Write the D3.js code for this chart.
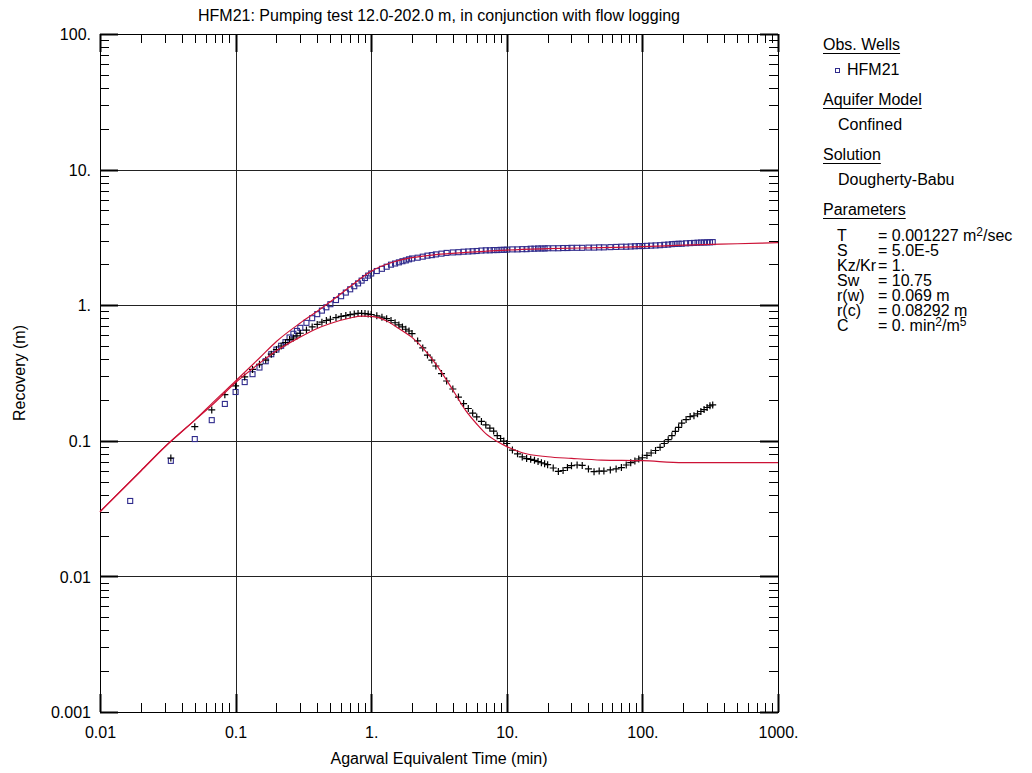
<!DOCTYPE html>
<html lang="en">
<head>
<meta charset="UTF-8">
<title>HFM21 Recovery</title>
<style>
  body { margin: 0; background: #fff; }
  svg text { font-family: Arial, "Liberation Sans", sans-serif; font-size: 16px; fill: #000; }
</style>
</head>
<body>
<svg id="chart" width="1032" height="773"></svg>
<script src="https://d3js.org/d3.v7.min.js"></script>
<script>
// observed data (min, m)
var obsTime = [0.0167, 0.0333, 0.05, 0.0667, 0.0833, 0.1, 0.1167, 0.1333, 0.15, 0.1667, 0.1833, 0.2, 0.2167, 0.2333, 0.25, 0.2667, 0.2833,
  0.3, 0.333, 0.367, 0.4, 0.433, 0.467, 0.5, 0.55, 0.6, 0.65, 0.7, 0.75, 0.8, 0.85, 0.9, 0.95,
  1.0, 1.1, 1.2, 1.3, 1.4, 1.5, 1.6, 1.7, 1.8, 1.9, 2.0, 2.2, 2.4, 2.6, 2.8, 3.0, 3.3, 3.6,
  4.0, 4.4, 4.8, 5.2, 5.6, 6.0, 6.5, 7.0, 7.5, 8.0, 8.5, 9.0, 9.5,
  10, 11, 12, 13, 14, 15, 16, 17, 18, 19, 20, 22, 24, 26, 28, 30, 33, 36, 40, 44, 48, 52,
  58, 64, 70, 76, 82, 88, 94, 100, 108, 116, 125, 135, 145, 155, 165, 175, 185, 195,
  210, 225, 240, 255, 270, 285, 300, 315, 330];

var obsRecovery = [0.036, 0.0711, 0.103, 0.142, 0.187, 0.229, 0.271, 0.310, 0.347, 0.386, 0.435, 0.471, 0.502, 0.534, 0.578, 0.616, 0.646,
  0.681, 0.741, 0.802, 0.859, 0.912, 0.965, 1.017, 1.092, 1.165, 1.239, 1.310, 1.380, 1.448, 1.518, 1.587, 1.653,
  1.713, 1.787, 1.855, 1.922, 1.99, 2.03, 2.07, 2.11, 2.14, 2.18, 2.21, 2.24, 2.28, 2.32, 2.34, 2.37, 2.40, 2.43,
  2.45, 2.46, 2.48, 2.49, 2.50, 2.51, 2.53, 2.54, 2.54, 2.55, 2.55, 2.56, 2.56,
  2.57, 2.58, 2.58, 2.59, 2.59, 2.61, 2.61, 2.62, 2.62, 2.62, 2.63, 2.63, 2.63, 2.64, 2.64, 2.65, 2.65, 2.65, 2.66, 2.66, 2.67, 2.67,
  2.68, 2.69, 2.70, 2.70, 2.71, 2.72, 2.73, 2.73, 2.74, 2.75, 2.76, 2.77, 2.79, 2.80, 2.82, 2.83, 2.84, 2.84,
  2.86, 2.87, 2.88, 2.89, 2.90, 2.90, 2.91, 2.91, 2.92];

var obsDerivative = [null, 0.0747, 0.127, 0.169, 0.219, 0.254, 0.296, 0.336, 0.367, 0.394, 0.435, 0.471, 0.500, 0.529, 0.558, 0.573, 0.593,
  0.621, 0.656, 0.691, 0.721, 0.750, 0.771, 0.788, 0.811, 0.826, 0.839, 0.851, 0.861, 0.869, 0.870, 0.867, 0.861,
  0.854, 0.835, 0.816, 0.796, 0.771, 0.742, 0.715, 0.691, 0.665, 0.645, 0.618, 0.545, 0.484, 0.429, 0.394, 0.356, 0.313, 0.276,
  0.241, 0.210, 0.188, 0.173, 0.160, 0.150, 0.139, 0.131, 0.124, 0.118, 0.109, 0.104, 0.0997,
  0.0955, 0.0855, 0.0802, 0.076, 0.074, 0.073, 0.0718, 0.0703, 0.0689, 0.0677, 0.0667, 0.063, 0.0594, 0.0604, 0.0635, 0.0655, 0.0663, 0.0658, 0.062, 0.0592, 0.0598, 0.0598,
  0.061, 0.062, 0.0635, 0.0663, 0.069, 0.071, 0.0734, 0.075, 0.078, 0.0813, 0.0848, 0.0895, 0.0955, 0.102, 0.109, 0.1175, 0.1257, 0.135,
  0.1435, 0.151, 0.153, 0.158, 0.1645, 0.170, 0.176, 0.181, 0.184];

// Dougherty-Babu type curves
var modelTime = [0.01, 0.02, 0.03, 0.05, 0.07, 0.1, 0.15, 0.2, 0.3, 0.4, 0.5, 0.7, 1, 1.5, 2, 3, 5, 7, 10, 20, 50, 100, 200, 500, 1000];
var modelRecovery = [0.030, 0.0599, 0.090, 0.142, 0.197, 0.276, 0.408, 0.540, 0.739, 0.902, 1.059, 1.374, 1.78, 2.10, 2.24, 2.36, 2.45, 2.50, 2.55, 2.61, 2.66, 2.70, 2.77, 2.84, 2.89];

var derivModelTime = [0.01, 0.02, 0.03, 0.05, 0.07, 0.1, 0.15, 0.2, 0.3, 0.4, 0.5, 0.7, 0.85, 1, 1.3, 1.6, 2, 2.5, 3, 4, 5, 6, 7, 8.5, 10, 13, 20, 30, 50, 100, 200, 300, 1000];
var derivModel = [0.030, 0.0599, 0.090, 0.142, 0.191, 0.269, 0.373, 0.461, 0.583, 0.674, 0.733, 0.805, 0.830, 0.826, 0.765, 0.673, 0.579, 0.463, 0.368, 0.237, 0.166, 0.133, 0.113, 0.0988, 0.0906, 0.0816, 0.0763, 0.0742, 0.0721, 0.0713, 0.069, 0.069, 0.069];

var xTicks = [0.01, 0.1, 1, 10, 100, 1000];
var xTickLabels = ["0.01", "0.1", "1.", "10.", "100.", "1000."];
var yTicks = [0.001, 0.01, 0.1, 1, 10, 100];
var yTickLabels = ["0.001", "0.01", "0.1", "1.", "10.", "100."];

var legendParams = [
  ["T", "= 0.001227 m", "2", "/sec"],
  ["S", "= 5.0E-5"],
  ["Kz/Kr", "= 1."],
  ["Sw", "= 10.75"],
  ["r(w)", "= 0.069 m"],
  ["r(c)", "= 0.08292 m"],
  ["C", "= 0. min", "2", "/m", "5"]
];

var blue = "#2f2b8c", red = "#cc1236";

var margin = { top: 34, right: 254, bottom: 61, left: 100 },
    width = 1032 - margin.left - margin.right,
    height = 773 - margin.top - margin.bottom;

var svg = d3.select("#chart");
var g = svg.append("g").attr("transform", "translate(" + margin.left + "," + margin.top + ")");

var x = d3.scaleLog().domain([0.01, 1000]).range([0, width]);
var y = d3.scaleLog().domain([0.001, 100]).range([height, 0]);

// title
svg.append("text")
   .attr("x", margin.left + width / 2).attr("y", 21)
   .style("text-anchor", "middle")
   .text("HFM21: Pumping test 12.0-202.0 m, in conjunction with flow logging");

// grid lines at decades
g.selectAll(".vgrid").data(xTicks).enter().append("line")
  .attr("x1", d => Math.round(x(d)) + 0.5).attr("x2", d => Math.round(x(d)) + 0.5)
  .attr("y1", 0).attr("y2", height)
  .attr("stroke", "#222").attr("stroke-width", 1);
g.selectAll(".hgrid").data(yTicks).enter().append("line")
  .attr("y1", d => Math.round(y(d)) + 0.5).attr("y2", d => Math.round(y(d)) + 0.5)
  .attr("x1", 0).attr("x2", width)
  .attr("stroke", "#222").attr("stroke-width", 1);

// minor ticks, inside, all four sides
var isMinor = d => Math.abs(Math.log10(d) - Math.round(Math.log10(d))) > 1e-6;
var xMinor = x.ticks().filter(isMinor);
var yMinor = y.ticks().filter(isMinor);
var tk = g.append("g").attr("stroke", "#000").attr("stroke-width", 1);
xMinor.forEach(function(d) {
  var px = Math.round(x(d)) + 0.5;
  tk.append("line").attr("x1", px).attr("x2", px).attr("y1", height).attr("y2", height - 9);
  tk.append("line").attr("x1", px).attr("x2", px).attr("y1", 0).attr("y2", 9);
});
yMinor.forEach(function(d) {
  var py = Math.round(y(d)) + 0.5;
  tk.append("line").attr("y1", py).attr("y2", py).attr("x1", 0).attr("x2", 9);
  tk.append("line").attr("y1", py).attr("y2", py).attr("x1", width).attr("x2", width - 9);
});
// major ticks
var tm = g.append("g").attr("stroke", "#000").attr("stroke-width", 2);
xTicks.forEach(function(d) {
  var px = Math.round(x(d)) + 0.5;
  tm.append("line").attr("x1", px).attr("x2", px).attr("y1", height).attr("y2", height - 18);
  tm.append("line").attr("x1", px).attr("x2", px).attr("y1", 0).attr("y2", 18);
});
yTicks.forEach(function(d) {
  var py = Math.round(y(d)) + 0.5;
  tm.append("line").attr("y1", py).attr("y2", py).attr("x1", 0).attr("x2", 18);
  tm.append("line").attr("y1", py).attr("y2", py).attr("x1", width).attr("x2", width - 18);
});

// frame
g.append("rect").attr("x", 0.5).attr("y", 0.5).attr("width", width).attr("height", height)
  .attr("fill", "none").attr("stroke", "#000").attr("stroke-width", 1);

// tick labels
var xAxis = g.append("g").attr("transform", "translate(0," + height + ")")
  .call(d3.axisBottom(x).tickValues(xTicks).tickFormat((d, i) => xTickLabels[i]).tickSize(0).tickPadding(15));
var yAxis = g.append("g")
  .call(d3.axisLeft(y).tickValues(yTicks).tickFormat((d, i) => yTickLabels[i]).tickSize(0).tickPadding(9));
xAxis.select(".domain").remove();
yAxis.select(".domain").remove();
yAxis.selectAll("text").attr("dy", "0.36em");

// axis titles
svg.append("text")
   .attr("x", margin.left + width / 2).attr("y", 764)
   .style("text-anchor", "middle")
   .text("Agarwal Equivalent Time (min)");
svg.append("text")
   .attr("transform", "rotate(-90)")
   .attr("x", -(margin.top + height / 2)).attr("y", 25)
   .style("text-anchor", "middle")
   .text("Recovery (m)");

// observed recovery (squares)
var obs = obsTime.map((t, i) => ({ t: t, r: obsRecovery[i], d: obsDerivative[i] }));
g.selectAll(".sq").data(obs).enter().append("rect")
  .attr("x", d => x(d.t) - 2.5).attr("y", d => y(d.r) - 2.5)
  .attr("width", 5).attr("height", 5)
  .attr("fill", "none").attr("stroke", blue).attr("stroke-width", 1.1);

// derivative (crosses)
g.selectAll(".pl").data(obs.filter(d => d.d != null)).enter().append("path")
  .attr("transform", d => "translate(" + x(d.t) + "," + y(d.d) + ")")
  .attr("d", "M-3.5,0H3.5M0,-3.5V3.5")
  .attr("stroke", "#000").attr("stroke-width", 1.2).attr("fill", "none");

// type curves
var line = d3.line().x(d => x(d[0])).y(d => y(d[1])).curve(d3.curveMonotoneX);
g.append("path").datum(modelTime.map((t, i) => [t, modelRecovery[i]]))
  .attr("d", line).attr("fill", "none").attr("stroke", red).attr("stroke-width", 1.2);
g.append("path").datum(derivModelTime.map((t, i) => [t, derivModel[i]]))
  .attr("d", line).attr("fill", "none").attr("stroke", red).attr("stroke-width", 1.2);

// legend
var lg = svg.append("g");
function header(txt, yy) {
  var t = lg.append("text").attr("x", 823).attr("y", yy).text(txt);
  var w = t.node().getComputedTextLength();
  lg.append("line").attr("x1", 823).attr("x2", 823 + w).attr("y1", yy + 3.5).attr("y2", yy + 3.5)
    .attr("stroke", "#000").attr("stroke-width", 1);
}
header("Obs. Wells", 50);
lg.append("rect").attr("x", 835.5).attr("y", 68.5).attr("width", 4).attr("height", 4)
  .attr("fill", "none").attr("stroke", blue);
lg.append("text").attr("x", 847).attr("y", 75).text("HFM21");
header("Aquifer Model", 105);
lg.append("text").attr("x", 838).attr("y", 130).text("Confined");
header("Solution", 160);
lg.append("text").attr("x", 838).attr("y", 185).text("Dougherty-Babu");
header("Parameters", 215);

legendParams.forEach(function(p, i) {
  var yy = 241 + i * 15;
  lg.append("text").attr("x", 837).attr("y", yy).text(p[0]);
  var t = lg.append("text").attr("x", 878).attr("y", yy);
  t.append("tspan").text(p[1]);
  if (p.length > 2) {
    t.append("tspan").attr("dy", -5).style("font-size", "12px").text(p[2]);
    t.append("tspan").attr("dy", 5).text(p[3]);
  }
  if (p.length > 4) {
    t.append("tspan").attr("dy", -5).style("font-size", "12px").text(p[4]);
  }
});
</script>
</body>
</html>
